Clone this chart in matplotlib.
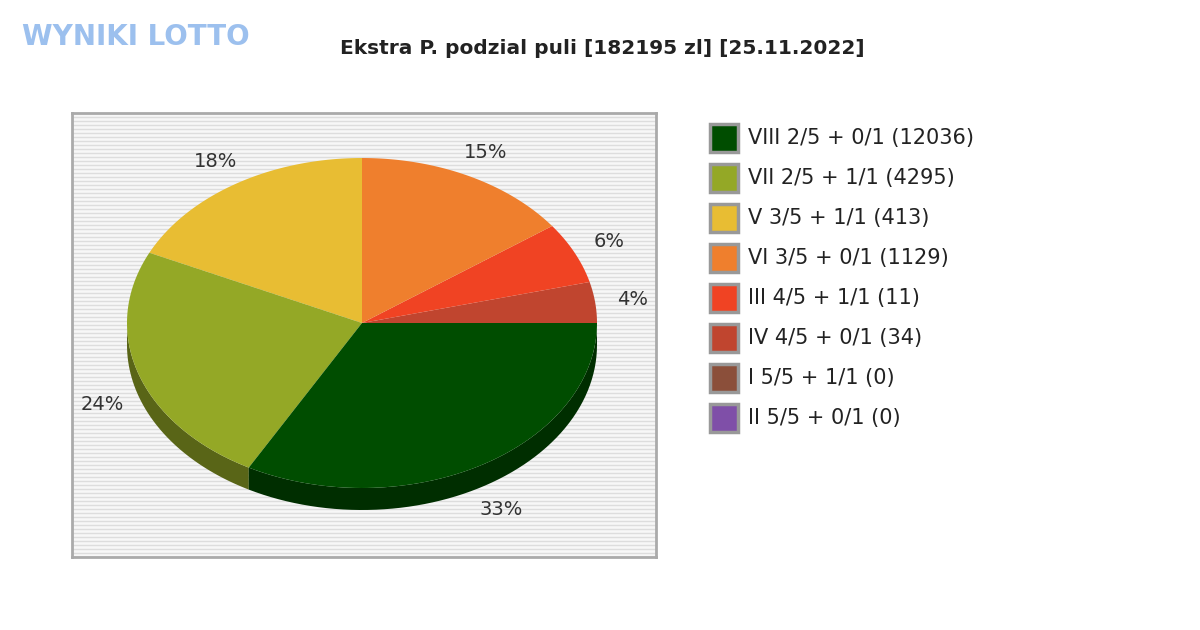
import numpy as np
import matplotlib
matplotlib.use("Agg")
import matplotlib.pyplot as plt
from matplotlib.patches import Polygon, Rectangle

title = "Ekstra P. podzial puli [182195 zl] [25.11.2022]"
legend_labels = ["VIII 2/5 + 0/1 (12036)", "VII 2/5 + 1/1 (4295)", "V 3/5 + 1/1 (413)",
                 "VI 3/5 + 0/1 (1129)", "III 4/5 + 1/1 (11)", "IV 4/5 + 0/1 (34)",
                 "I 5/5 + 1/1 (0)", "II 5/5 + 0/1 (0)"]
colors = ["#004d00", "#94a826", "#e8bd33", "#ef7f2d", "#f04323", "#c0452f", "#8b4f3a", "#7f4fa8"]
# pie share (%) in legend order
shares = [33, 24, 18, 15, 6, 4, 0, 0]

W, H = 1200, 630
fig = plt.figure(figsize=(12, 6.3), dpi=100)
fig.patch.set_facecolor("white")

# plot box in pixel coords
x0, x1, ytop, ybot = 72, 656, 113, 557
ax = fig.add_axes([x0 / W, 1 - ybot / H, (x1 - x0) / W, (ybot - ytop) / H])
ax.set_xlim(x0, x1)
ax.set_ylim(H - ybot, H - ytop)
ax.set_xticks([]); ax.set_yticks([])
ax.set_facecolor("#f7f7f7")
for y in np.arange(H - ybot, H - ytop, 4):
    ax.axhline(y, color="#dddddd", lw=1, zorder=0)
for s in ax.spines.values():
    s.set_color("#aaaaaa"); s.set_linewidth(2)

cx, cy, rx, ry, depth = 362, H - 323, 235, 165, 22

def darker(c, f=0.6):
    r, g, b = matplotlib.colors.to_rgb(c)
    return (r * f, g * f, b * f)

# slices counterclockwise from 0 deg, reverse legend order
order = [i for i in reversed(range(len(shares))) if shares[i] > 0]
bounds = []
start = 0.0
for i in order:
    end = start + shares[i] / sum(shares) * 360
    bounds.append((i, start, end))
    start = end

# side walls (lower half)
for i, a0, a1 in bounds:
    lo, hi = max(a0, 180), min(a1, 360)
    if hi <= lo:
        continue
    t = np.radians(np.linspace(lo, hi, 60))
    xs = cx + rx * np.cos(t); ys = cy + ry * np.sin(t)
    pts = np.concatenate([np.c_[xs, ys], np.c_[xs[::-1], ys[::-1] - depth]])
    ax.add_patch(Polygon(pts, closed=True, fc=darker(colors[i]), ec="none", zorder=2))

# top faces + labels
for i, a0, a1 in bounds:
    t = np.radians(np.linspace(a0, a1, 80))
    pts = np.vstack([[cx, cy], np.c_[cx + rx * np.cos(t), cy + ry * np.sin(t)]])
    ax.add_patch(Polygon(pts, closed=True, fc=colors[i], ec="none", zorder=3))
    m = np.radians((a0 + a1) / 2)
    off = depth if np.sin(m) < 0 else 0
    ax.text(cx + rx * 1.16 * np.cos(m), cy + ry * 1.16 * np.sin(m) - off,
            f"{shares[i]}%", ha="center", va="center", fontsize=14, color="#333333",
            zorder=4)

# title and logo
fig.text(602 / W, 1 - 48 / H, title, ha="center", va="center", fontsize=14.5,
         fontweight="bold", color="#222222")
fig.text(22 / W, 1 - 37 / H, "WYNIKI LOTTO", ha="left", va="center", fontsize=20,
         fontweight="bold", color="#9cc0ee")

# legend
for k, lab in enumerate(legend_labels):
    yc = 138 + 40 * k
    fig.patches.append(Rectangle((710 / W, 1 - (yc + 14) / H), 28 / W, 28 / H,
                                 transform=fig.transFigure, fc=colors[k],
                                 ec="#999999", lw=2.5))
    fig.text(748 / W, 1 - yc / H, lab, ha="left", va="center", fontsize=15,
             color="#222222")

fig.savefig("out.png", dpi=100)
